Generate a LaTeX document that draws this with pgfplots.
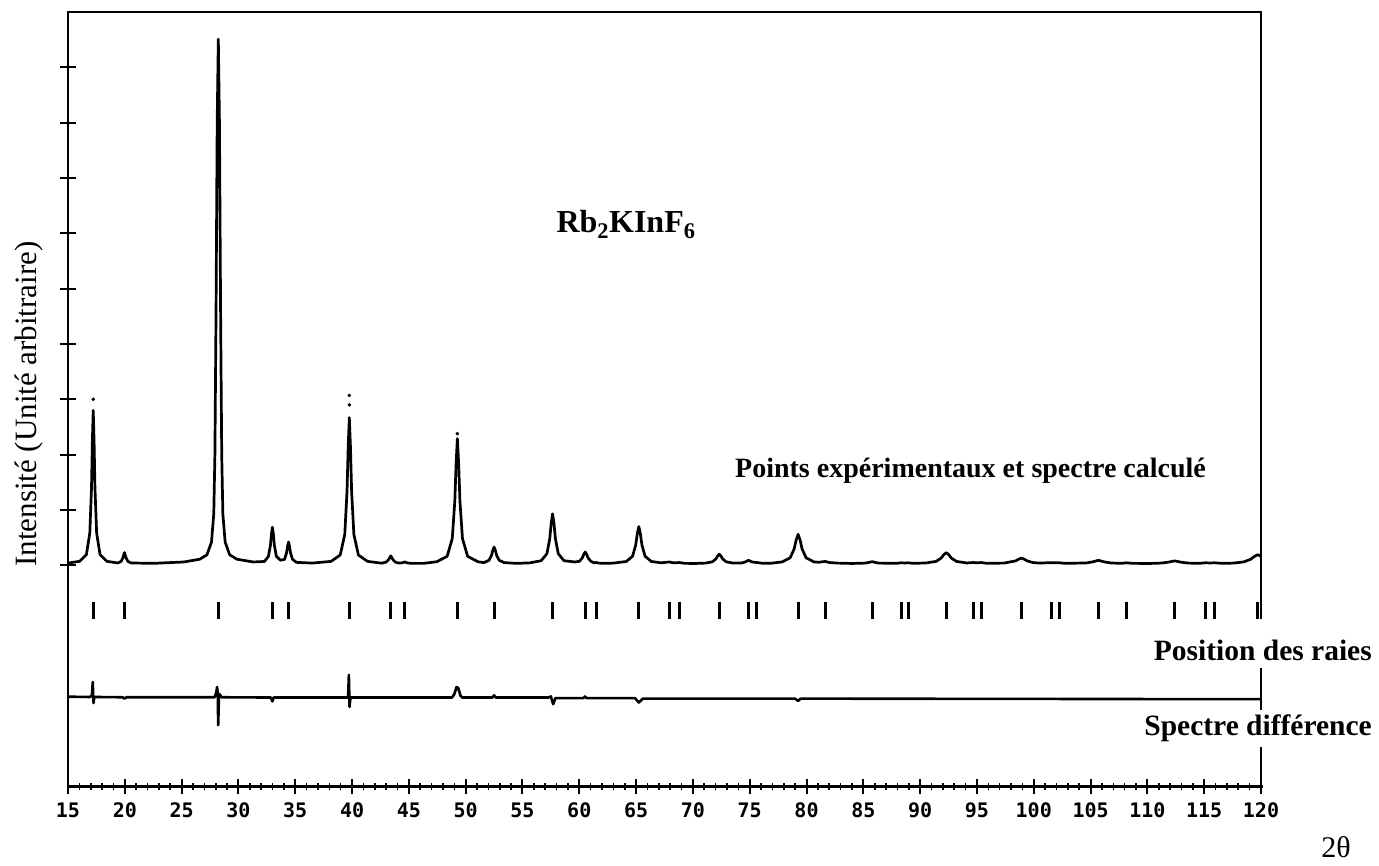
\documentclass[border=0pt]{standalone}
\usepackage{fontspec}
\setmainfont{Liberation Serif}
\newfontfamily\plotterfont{DejaVu Sans Mono}
\usepackage{pgfplots}
\pgfplotsset{compat=1.18}

\begin{document}
\begin{tikzpicture}[x=1pt,y=1pt]
\useasboundingbox (0,0) rectangle (1379,-865);
\begin{axis}[
  at={(68pt,-786.6pt)}, anchor=south west,
  scale only axis, width=1193pt, height=774.6pt,
  xmin=15, xmax=120, ymin=-4, ymax=10,
  axis line style={draw=none},
  xtick={15,20,25,30,35,40,45,50,55,60,65,70,75,80,85,90,95,100,105,110,115,120},
  xticklabels={15,20,25,30,35,40,45,50,55,60,65,70,75,80,85,90,95,100,105,110,115,120},
  minor x tick num=4,
  ytick={0,1,...,9}, yticklabels={},
  xtick pos=lower, ytick pos=left,
  tick align=center,
  major tick length=15pt, minor tick length=7pt,
  major tick style={black, line width=2pt},
  minor tick style={black, line width=1.6pt},
  xticklabel style={font=\plotterfont\bfseries\fontsize{20}{20}\selectfont,
    inner sep=0pt, anchor=north, text height=14.6pt, text depth=0pt, yshift=-9pt},
  clip=false,
]
% calculated spectrum
\addplot[black, line width=2.7pt, line join=round] coordinates {
(15,0.04) (16.02,0.072) (16.62,0.193) (16.92,0.584) (17.07,1.415) (17.145,2.246) (17.22,2.80)
(17.295,2.246) (17.37,1.415) (17.52,0.584) (17.82,0.193) (18.42,0.072)
(19.37,0.042) (19.67,0.07) (19.82,0.13) (19.97,0.23) (20.12,0.13) (20.27,0.07) (20.57,0.042)
(22.5,0.035) (25.2,0.06) (26.6,0.11) (27.23,0.19) (27.63,0.42) (27.83,0.93) (27.93,2.0) (28.03,4.6)
(28.13,8.0) (28.23,9.51) (28.33,8.0) (28.43,4.6) (28.53,2.0) (28.63,0.93) (28.83,0.42) (29.23,0.19)
(29.86,0.11) (31.3,0.06)
(32.29,0.069) (32.64,0.162) (32.815,0.36) (32.9025,0.558) (32.99,0.69) (33.0775,0.558) (33.165,0.36)
(33.34,0.162) (33.70,0.091) (34.06,0.108) (34.235,0.225) (34.3225,0.342) (34.41,0.42) (34.4975,0.342)
(34.585,0.225) (34.76,0.108) (35.11,0.053) (36.5,0.04)
(38.16,0.071) (38.96,0.186) (39.36,0.558) (39.56,1.35) (39.66,2.142) (39.76,2.67) (39.86,2.142)
(39.96,1.35) (40.16,0.558) (40.56,0.186) (41.36,0.071)
(42.61,0.038) (43.01,0.058) (43.21,0.10) (43.41,0.17) (43.61,0.10) (43.81,0.058) (44.1,0.04)
(44.43,0.045) (44.63,0.06) (44.83,0.045) (45.2,0.035) (46.3,0.035)
(47.47,0.065) (48.37,0.163) (48.82,0.482) (49.045,1.16) (49.1575,1.838) (49.27,2.29) (49.3825,1.838)
(49.495,1.16) (49.72,0.482) (50.17,0.163) (51.07,0.065)
(51.6,0.048) (52.05,0.09) (52.275,0.18) (52.3875,0.27) (52.5,0.33) (52.6125,0.27) (52.725,0.18)
(52.95,0.09) (53.4,0.048) (54.5,0.035)
(55.65,0.044) (56.65,0.083) (57.15,0.21) (57.40,0.48) (57.525,0.75) (57.65,0.93) (57.775,0.75)
(57.90,0.48) (58.15,0.21) (58.65,0.083) (59.6,0.06)
(60.02,0.072) (60.27,0.135) (60.395,0.198) (60.52,0.24) (60.645,0.198) (60.77,0.135) (61.02,0.072)
(61.3,0.045) (61.5,0.05) (61.7,0.04) (62.2,0.035)
(63.04,0.04) (64.14,0.069) (64.69,0.164) (64.965,0.365) (65.1025,0.566) (65.24,0.70) (65.3775,0.566)
(65.515,0.365) (65.79,0.164) (66.34,0.069) (67.2,0.045)
(67.92,0.06) (68.3,0.045) (68.82,0.05) (69.3,0.035) (70.2,0.033)
(71.12,0.04) (71.72,0.064) (72.02,0.115) (72.17,0.166) (72.32,0.20) (72.47,0.166) (72.62,0.115)
(72.92,0.064) (73.52,0.04)
(74.3,0.042) (74.6,0.06) (74.9,0.09) (75.2,0.06) (75.64,0.05) (76.2,0.035)
(76.9,0.038) (77.86,0.061) (78.56,0.136) (78.91,0.295) (79.085,0.454) (79.26,0.56) (79.435,0.454)
(79.61,0.295) (79.96,0.136) (80.66,0.061)
(81.1,0.055) (81.64,0.07) (82.0,0.05) (82.7,0.04) (84.0,0.033)
(85.2,0.04) (85.78,0.065) (86.3,0.04)
(87.9,0.035) (88.33,0.045) (88.65,0.042) (88.95,0.045) (89.4,0.035)
(90.5,0.042) (91.4,0.07) (91.85,0.13) (92.075,0.19) (92.3,0.23) (92.525,0.19) (92.75,0.13)
(93.2,0.07) (94.1,0.042)
(94.68,0.05) (95.0,0.045) (95.38,0.05) (95.9,0.035)
(97.4,0.04) (98.41,0.08) (98.66,0.11) (98.91,0.13) (99.16,0.11) (99.41,0.08) (99.91,0.05) (100.5,0.04)
(101.55,0.048) (101.9,0.045) (102.26,0.045) (102.8,0.035)
(104.6,0.042) (105.14,0.06) (105.69,0.09) (106.24,0.06) (106.8,0.042)
(107.7,0.035) (108.16,0.045) (108.7,0.035) (110.2,0.033)
(111.2,0.04) (111.8,0.055) (112.39,0.08) (113.0,0.055) (113.6,0.04) (114.5,0.035)
(115.12,0.045) (115.5,0.042) (115.91,0.045) (116.6,0.035)
(117.6,0.04) (118.5,0.062) (119.1,0.11) (119.4,0.158) (119.7,0.19) (119.85,0.18) (120,0.158)
};
% experimental points standing above the calculated profile
\addplot[only marks, mark=*, mark size=1.6pt, black] coordinates {
(17.22,3.0) (39.76,2.9) (39.76,3.07) (49.27,2.38)
};
% Bragg reflection positions
\addplot[only marks, mark=|, mark size=8.5pt, black, mark options={line width=3pt}] coordinates {
(17.22,-0.81) (19.97,-0.81) (28.23,-0.81) (32.99,-0.81) (34.41,-0.81) (39.76,-0.81)
(43.41,-0.81) (44.63,-0.81) (49.27,-0.81) (52.50,-0.81) (57.65,-0.81) (60.52,-0.81)
(61.50,-0.81) (65.24,-0.81) (67.92,-0.81) (68.82,-0.81) (72.32,-0.81) (74.88,-0.81)
(75.64,-0.81) (79.26,-0.81) (81.64,-0.81) (85.78,-0.81) (88.33,-0.81) (88.95,-0.81)
(92.30,-0.81) (94.68,-0.81) (95.38,-0.81) (98.91,-0.81) (101.55,-0.81) (102.26,-0.81)
(105.69,-0.81) (108.16,-0.81) (112.39,-0.81) (115.12,-0.81) (115.91,-0.81) (119.70,-0.81)
};
% difference spectrum
\addplot[black, line width=2.6pt, line join=round] coordinates {
(15,-2.375) (16.9,-2.38) (17.1,-2.36) (17.18,-2.11) (17.24,-2.49) (17.32,-2.38)
(19.8,-2.385) (19.97,-2.41) (20.15,-2.385)
(27.9,-2.385) (28.05,-2.30) (28.12,-2.20) (28.18,-2.32) (28.22,-2.89) (28.28,-2.40) (28.35,-2.33) (28.5,-2.385)
(32.85,-2.39) (32.99,-2.46) (33.1,-2.39)
(39.65,-2.39) (39.72,-1.98) (39.78,-2.56) (39.86,-2.39)
(48.8,-2.39) (49.0,-2.33) (49.2,-2.20) (49.35,-2.22) (49.55,-2.36) (49.7,-2.39)
(52.35,-2.39) (52.5,-2.35) (52.65,-2.39)
(57.3,-2.39) (57.5,-2.37) (57.7,-2.51) (57.9,-2.40)
(60.35,-2.40) (60.5,-2.37) (60.65,-2.40)
(64.9,-2.40) (65.24,-2.48) (65.6,-2.41)
(79.0,-2.41) (79.25,-2.45) (79.5,-2.41) (120,-2.42)
};
% frame: the right side is interrupted beside the two labels
\draw[black, line width=2.6pt, line cap=rect] (axis cs:15,10) -- (axis cs:15,-4);
\draw[black, line width=3pt, line cap=rect] (axis cs:15,-4) -- (axis cs:120,-4);
\draw[black, line width=2.4pt, line cap=rect] (axis cs:15,10) -- (axis cs:120,10) -- (axis cs:120,-0.957);
\draw[black, line width=2.4pt] (axis cs:120,-1.859) -- (axis cs:120,-2.617);
\draw[black, line width=2.4pt] (axis cs:120,-3.285) -- (axis cs:120,-4);
\end{axis}
\node[rotate=90, font=\fontsize{31}{31}\selectfont, inner sep=0pt] at (29,-404) {Intensité (Unité arbitraire)};
\node[anchor=base, inner sep=0pt, font=\bfseries\fontsize{32}{32}\selectfont] at (626,-232) {Rb\textsubscript{2}KInF\textsubscript{6}};
\node[anchor=base west, inner sep=0pt, font=\bfseries\fontsize{28}{28}\selectfont] at (735,-477) {Points expérimentaux et spectre calculé};
\node[anchor=base east, inner sep=0pt, font=\bfseries\fontsize{29.5}{29.5}\selectfont] at (1372,-660) {Position des raies};
\node[anchor=base east, inner sep=0pt, font=\bfseries\fontsize{29.5}{29.5}\selectfont] at (1372,-735) {Spectre différence};
\node[anchor=base, inner sep=0pt, font=\fontsize{30}{30}\selectfont] at (1336,-857) {2θ};
\end{tikzpicture}
\end{document}
